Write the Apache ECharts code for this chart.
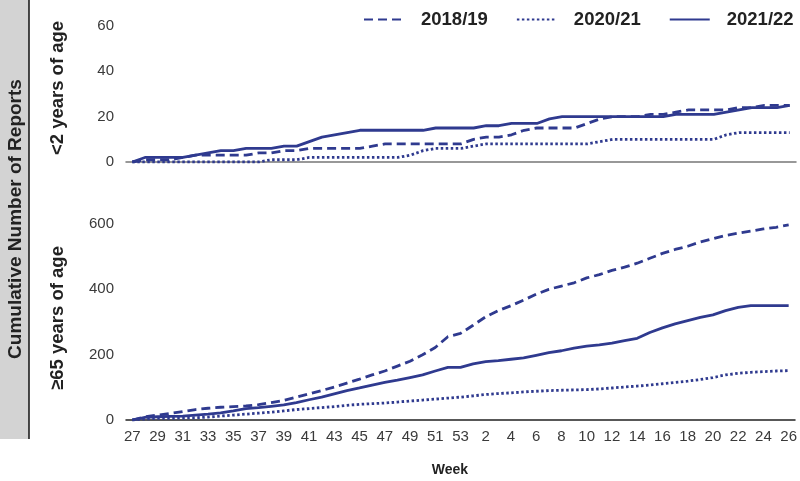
<!DOCTYPE html>
<html>
<head>
<meta charset="utf-8">
<script src="https://cdn.jsdelivr.net/npm/echarts@6/dist/echarts.min.js"></script>
<style>
	html, body { margin: 0; padding: 0; background: #fff; }
	#chart { width: 800px; height: 481px; }
</style>
</head>
<body>
<div id="chart"></div>
<script>
// weeks 27..53 of the first year, then 1..26
const weeks = [
	"27", "28", "29", "30", "31", "32", "33", "34", "35", "36", "37", "38", "39", "40",
	"41", "42", "43", "44", "45", "46", "47", "48", "49", "50", "51", "52", "53",
	"1", "2", "3", "4", "5", "6", "7", "8", "9", "10", "11", "12", "13", "14", "15",
	"16", "17", "18", "19", "20", "21", "22", "23", "24", "25", "26",
];

const seasons = ["2018/19", "2020/21", "2021/22"];

// <2 years of age
const under2_2018 = [0, 1, 1, 1, 2, 3, 3, 3, 3, 3, 4, 4, 5, 5, 6, 6, 6, 6, 6, 7, 8, 8, 8, 8, 8, 8, 8,
	10, 11, 11, 12, 14, 15, 15, 15, 15, 17, 19, 20, 20, 20, 21, 21, 22, 23, 23, 23, 23, 24, 24, 25, 25, 25];
const under2_2020 = [0, 0, 0, 0, 0, 0, 0, 0, 0, 0, 0, 1, 1, 1, 2, 2, 2, 2, 2, 2, 2, 2, 3, 5, 6, 6, 6,
	7, 8, 8, 8, 8, 8, 8, 8, 8, 8, 9, 10, 10, 10, 10, 10, 10, 10, 10, 10, 12, 13, 13, 13, 13, 13];
const under2_2021 = [0, 2, 2, 2, 2, 3, 4, 5, 5, 6, 6, 6, 7, 7, 9, 11, 12, 13, 14, 14, 14, 14, 14, 14, 15, 15, 15,
	15, 16, 16, 17, 17, 17, 19, 20, 20, 20, 20, 20, 20, 20, 20, 20, 21, 21, 21, 21, 22, 23, 24, 24, 24, 25];

// >=65 years of age
const over65_2018 = [0, 10, 15, 20, 26, 32, 36, 39, 41, 43, 47, 53, 60, 70, 80, 90, 101, 113, 125, 138, 150, 165, 180, 200, 222, 255, 265,
	290, 316, 335, 350, 367, 385, 400, 410, 420, 435, 445, 458, 468, 480, 495, 510, 522, 532, 545, 555, 565, 572, 578, 585, 590, 597];
const over65_2020 = [0, 3, 5, 5, 6, 7, 9, 12, 15, 18, 21, 24, 28, 32, 35, 38, 41, 45, 48, 50, 52, 55, 58, 61, 64, 67, 70,
	74, 78, 81, 83, 86, 88, 90, 91, 92, 93, 95, 98, 101, 104, 107, 111, 115, 119, 124, 130, 138, 143, 146, 148, 150, 151];
const over65_2021 = [0, 8, 10, 11, 12, 15, 18, 22, 28, 35, 38, 42, 46, 53, 62, 70, 80, 90, 98, 107, 115, 122, 130, 138, 150, 161, 161,
	172, 179, 182, 186, 190, 198, 206, 212, 220, 226, 230, 235, 243, 250, 268, 282, 294, 304, 314, 322, 335, 345, 350, 350, 350, 350];

const topTicks = [0, 20, 40, 60];
const bottomTicks = [0, 200, 400, 600];

const lineColor = "#2f3a8f";
const dashTypes = [[9, 5], [2.5, 2.5], "solid"];
const font = "Liberation Sans, Arial, sans-serif";

const chart = echarts.init(document.getElementById("chart"), null, { renderer: "canvas" });

const makeSeries = (name, data, idx, axisIdx) => ({
	name       : name,
	type       : "line",
	xAxisIndex : axisIdx,
	yAxisIndex : axisIdx,
	data       : data,
	symbol     : "none",
	showSymbol : false,
	animation  : false,
	lineStyle  : {
		color : lineColor,
		width : 2.8,
		type  : dashTypes[idx],
	},
	itemStyle: { color: lineColor },
});

const xAxisBase = (gridIdx, showLabel, axisColor) => ({
	type        : "category",
	gridIndex   : gridIdx,
	data        : weeks,
	boundaryGap : true,
	axisTick    : { show: false },
	axisLine    : { lineStyle: { color: axisColor, width: 1.5 } },
	axisLabel   : {
		show       : showLabel,
		interval   : 1,
		margin     : 9,
		fontSize   : 15,
		color      : "#3a3a3a",
		fontFamily : font,
	},
	splitLine: { show: false },
});

const yAxisBase = (gridIdx, ticks) => ({
	type      : "value",
	gridIndex : gridIdx,
	min       : ticks[0],
	max       : ticks[ticks.length - 1],
	interval  : ticks[1] - ticks[0],
	axisLine  : { show: false },
	axisTick  : { show: false },
	splitLine : { show: false },
	axisLabel : {
		margin     : 12,
		fontSize   : 15,
		color      : "#3a3a3a",
		fontFamily : font,
	},
});

const label = (text, x, y, size, rotated) => ({
	type     : "text",
	x        : x,
	y        : y,
	rotation : rotated ? Math.PI / 2 : 0,
	style    : {
		text          : text,
		fontSize      : size,
		fontWeight    : "bold",
		fontFamily    : font,
		fill          : "#222",
		align         : "center",
		verticalAlign : "middle",
	},
});

chart.setOption({
	backgroundColor : "#fff",
	animation       : false,
	legend          : {
		data       : seasons,
		top        : 5,
		left       : 358,
		itemWidth  : 40,
		itemHeight : 12,
		itemGap    : 28,
		itemStyle  : { opacity: 0 },
		textStyle  : {
			fontSize   : 18.5,
			fontWeight : "bold",
			color      : "#222",
			fontFamily : font,
			padding    : [0, 0, 0, 12],
		},
	},
	grid: [
		{ left: 126, right: 4, top: 26, height: 136 },
		{ left: 126, right: 4, top: 224, height: 196 },
	],
	xAxis: [
		xAxisBase(0, false, "#777"),
		xAxisBase(1, true, "#222"),
	],
	yAxis: [
		yAxisBase(0, topTicks),
		yAxisBase(1, bottomTicks),
	],
	series: [
		makeSeries(seasons[0], under2_2018, 0, 0),
		makeSeries(seasons[1], under2_2020, 1, 0),
		makeSeries(seasons[2], under2_2021, 2, 0),
		makeSeries(seasons[0], over65_2018, 0, 1),
		makeSeries(seasons[1], over65_2020, 1, 1),
		makeSeries(seasons[2], over65_2021, 2, 1),
	],
	graphic: [
		{
			type  : "rect",
			shape : { x: 0, y: 0, width: 29, height: 439 },
			style : { fill: "#d3d3d3", stroke: null },
			z     : -1,
		},
		{
			type  : "line",
			shape : { x1: 29, y1: 0, x2: 29, y2: 439 },
			style : { stroke: "#111", lineWidth: 1.5 },
		},
		label("Cumulative Number of Reports", 16, 219, 19, true),
		label("<2 years of age", 58, 88, 18.5, true),
		label("≥65 years of age", 58, 318, 18.5, true),
		label("Week", 450, 470, 14, false),
	],
});
</script>
</body>
</html>
